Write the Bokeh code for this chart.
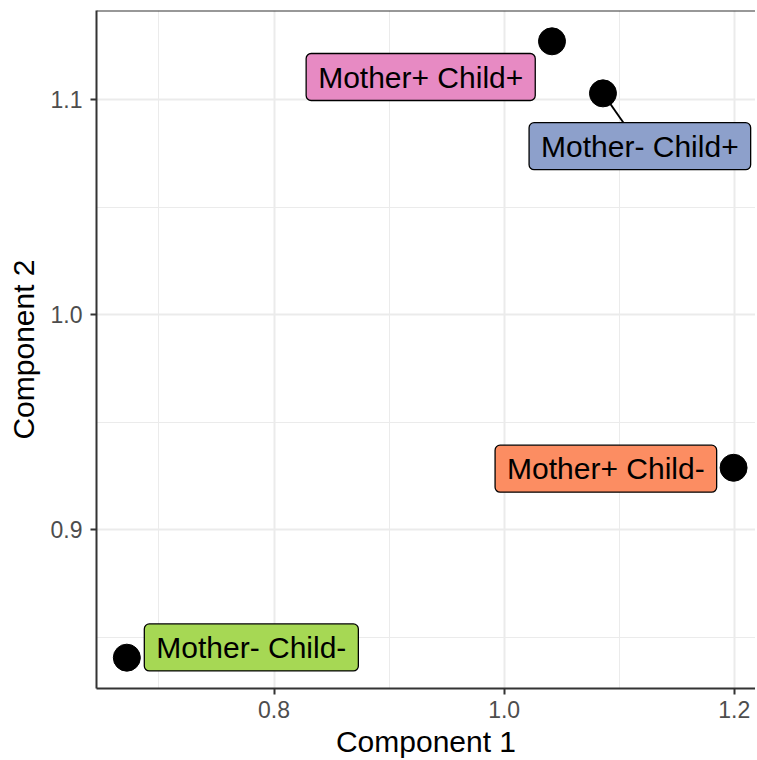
from bokeh.plotting import figure
from bokeh.models import FixedTicker, Span, Range1d, ColumnDataSource
from bokeh.core.properties import value
from bokeh.embed import file_html
from bokeh.resources import INLINE

# ---- data ----
labels = ["Mother- Child-", "Mother+ Child+", "Mother- Child+", "Mother+ Child-"]
comp1 = [0.6721, 1.0416, 1.0859, 1.1994]
comp2 = [0.8405, 1.1271, 1.1029, 0.9288]
fill_colors = ["#A6D854", "#E78AC3", "#8DA0CB", "#FC8D62"]
x_ticks = [0.8, 1.0, 1.2]
x_tick_labels = ["0.8", "1.0", "1.2"]
x_minor = [0.7, 0.9, 1.1]
y_ticks = [0.9, 1.0, 1.1]
y_tick_labels = ["0.9", "1.0", "1.1"]
y_minor = [0.85, 0.95, 1.05]

# ---- layout (repelled label offsets, screen px, y down) ----
label_dx = [124.5, -131.3, 36.9, -127.7]
label_dy = [-10.3, 35.7, 52.8, 0.9]
show_segment = [False, False, True, False]

W, H = 755, 760
BL, BR, BT, BB = 96, 0, 10, 72
FW, FH = W - BL - BR, H - BT - BB

span_x = max(comp1) - min(comp1)
span_y = max(comp2) - min(comp2)
x_start = min(comp1) - 0.05 * span_x
x_end_full = max(comp1) + 0.05 * span_x
y_start = min(comp2) - 0.05 * span_y
y_end = max(comp2) + 0.05 * span_y
# panel is wider than the window; cut at the window edge
full_px = 667.4
x_end = x_start + (x_end_full - x_start) * FW / full_px

sx = FW / (x_end - x_start)
sy = FH / (y_end - y_start)
lab_x = [x + dx / sx for x, dx in zip(comp1, label_dx)]
lab_y = [y - dy / sy for y, dy in zip(comp2, label_dy)]

p = figure(width=W, height=H, output_backend="svg", toolbar_location=None,
           x_range=Range1d(x_start, x_end), y_range=Range1d(y_start, y_end),
           min_border_left=BL, min_border_right=BR, min_border_top=BT, min_border_bottom=BB)
p.background_fill_color = "white"
p.border_fill_color = "white"
p.outline_line_color = None

for ax, ticks, minor, tl in ((p.xaxis[0], x_ticks, x_minor, x_tick_labels),
                             (p.yaxis[0], y_ticks, y_minor, y_tick_labels)):
    ax.ticker = FixedTicker(ticks=ticks, minor_ticks=minor)
    ax.major_label_overrides = {t: s for t, s in zip(ticks, tl)}
    ax.axis_line_color = "#333333"
    ax.axis_line_width = 2
    ax.major_tick_line_color = "#333333"
    ax.major_tick_line_width = 2
    ax.major_tick_out = 6
    ax.major_tick_in = 0
    ax.minor_tick_line_color = None
    ax.major_label_text_font = "Liberation Sans"
    ax.major_label_text_font_size = "23px"
    ax.major_label_text_color = "#4D4D4D"
    ax.axis_label_text_font = "Liberation Sans"
    ax.axis_label_text_font_size = "30px"
    ax.axis_label_text_font_style = "normal"
    ax.axis_label_text_color = "black"

p.xaxis.axis_label = "Component 1"
p.yaxis.axis_label = "Component 2"
p.xaxis.major_label_standoff = 6
p.yaxis.major_label_standoff = 8
p.xaxis.axis_label_standoff = 4
p.yaxis.axis_label_standoff = 8

for g in (p.xgrid[0], p.ygrid[0]):
    g.grid_line_color = "#EBEBEB"
    g.grid_line_width = 2
    g.minor_grid_line_color = "#EBEBEB"
    g.minor_grid_line_width = 1

p.add_layout(Span(location=y_end, dimension="width", line_color="#333333", line_width=2))

seg = ColumnDataSource(dict(
    x0=[x for x, s in zip(comp1, show_segment) if s],
    y0=[y for y, s in zip(comp2, show_segment) if s],
    x1=[x for x, s in zip(lab_x, show_segment) if s],
    y1=[y for y, s in zip(lab_y, show_segment) if s]))
p.segment("x0", "y0", "x1", "y1", source=seg, line_color="black", line_width=1.8)

p.scatter(comp1, comp2, size=27, color="black")

src = ColumnDataSource(dict(x=lab_x, y=lab_y, text=labels, fill=fill_colors))
p.text("x", "y", text="text", source=src, text_align="center", text_baseline="middle",
       text_font=value("Liberation Sans"), text_font_size="30px", text_color="black",
       background_fill_color="fill", border_line_color="black", border_line_width=1.3,
       padding=dict(left=12, right=12, top=7, bottom=7), border_radius=5)

open("out.html", "w").write(file_html(p, INLINE))
